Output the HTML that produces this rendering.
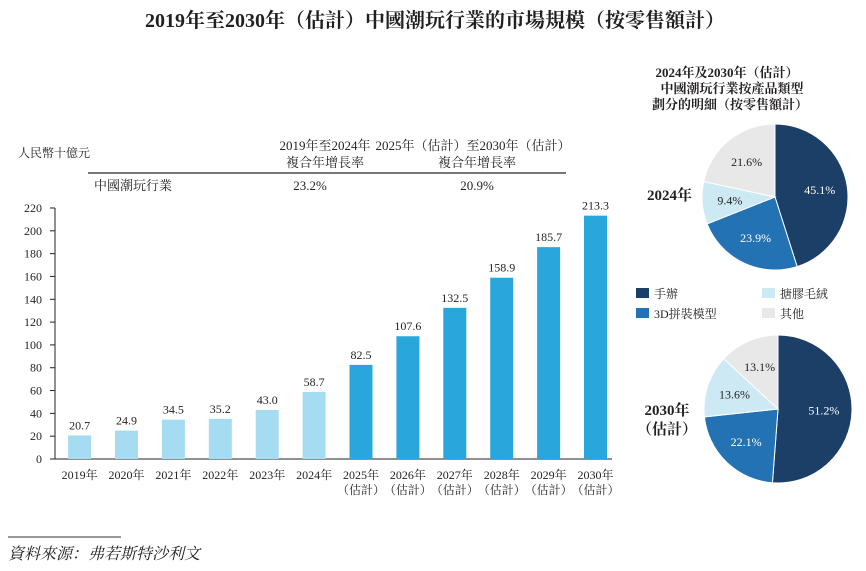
<!DOCTYPE html>
<html><head><meta charset="utf-8">
<style>
body{margin:0;width:866px;height:571px;background:#fff;overflow:hidden;font-family:"Liberation Serif","Noto Serif CJK SC",serif;color:#231f20}
svg{position:absolute;left:0;top:0}
text{font-family:"Liberation Serif","Noto Serif CJK SC",serif;fill:#231f20}
</style></head><body>
<svg id="c" width="866" height="571">
<text x="435" y="27" text-anchor="middle" font-size="20" font-weight="bold">2019年至2030年（估計）中國潮玩行業的市場規模（按零售額計）</text>
<text x="18" y="157" font-size="12">人民幣十億元</text>
<text x="325" y="150" font-size="13" text-anchor="middle">2019年至2024年</text>
<text x="325" y="167" font-size="13" text-anchor="middle">複合年增長率</text>
<text x="473" y="150" font-size="13" text-anchor="middle">2025年（估計）至2030年（估計）</text>
<text x="477" y="167" font-size="13" text-anchor="middle">複合年增長率</text>
<line x1="88" y1="173" x2="566" y2="173" stroke="#777" stroke-width="2"/>
<text x="94" y="190" font-size="13">中國潮玩行業</text>
<text x="310" y="190" font-size="13" text-anchor="middle">23.2%</text>
<text x="477" y="190" font-size="13" text-anchor="middle">20.9%</text>
<line x1="8" y1="537" x2="121" y2="537" stroke="#333" stroke-width="1"/>
<text x="8" y="559" font-size="16" font-style="italic">資料來源：弗若斯特沙利文</text>
<text x="727" y="77" font-size="13" font-weight="bold" text-anchor="middle">2024年及2030年（估計）</text>
<text x="732" y="93" font-size="13" font-weight="bold" text-anchor="middle">中國潮玩行業按產品類型</text>
<text x="730" y="109" font-size="13" font-weight="bold" text-anchor="middle">劃分的明細（按零售額計）</text>
<text x="647" y="200" font-size="15" font-weight="bold">2024年</text>
<text x="667" y="415" font-size="15" font-weight="bold" text-anchor="middle">2030年</text>
<text x="667" y="434" font-size="15" font-weight="bold" text-anchor="middle">（估計）</text>
</svg>
<script>
const years=["2019年","2020年","2021年","2022年","2023年","2024年","2025年","2026年","2027年","2028年","2029年","2030年"];
const values=[20.7,24.9,34.5,35.2,43.0,58.7,82.5,107.6,132.5,158.9,185.7,213.3];
const yTicks=[0,20,40,60,80,100,120,140,160,180,200,220];
const pieCategories=["手辦","3D拼裝模型","搪膠毛絨","其他"];
const pie2024=[45.1,23.9,9.4,21.6];
const pie2030=[51.2,22.1,13.6,13.1];
const NS="http://www.w3.org/2000/svg",svg=document.getElementById('c');
function mk(t,a,p){const e=document.createElementNS(NS,t);for(const k in a)e.setAttribute(k,a[k]);(p||svg).appendChild(e);return e;}
const y0=459,yTop=208,yMax=220;
const y=v=>y0-(v/yMax)*(y0-yTop);
const x=i=>79.6+i*46.9;
let e=mk('line',{x1:55,y1:yTop,x2:55,y2:y0,stroke:'#231f20'});


e=mk('line',{x1:55,y1:y0,x2:612,y2:y0,stroke:'#231f20'});


yTicks.forEach(t=>{
  let l=mk('line',{x1:50,y1:y(t),x2:55,y2:y(t),stroke:'#231f20'});
  
  
  let tx=mk('text',{x:42,y:y(t)+4,'font-size':12,'text-anchor':'end'});tx.textContent=t;
  
  
});
values.forEach((v,i)=>{
  let r=mk('rect',{x:x(i)-11.5,y:y(v),width:23,height:y0-y(v),fill:i<6?'#a6dcf1':'#29a7dd'});
  
  
  let t=mk('text',{x:x(i),y:y(v)-6,'font-size':12,'text-anchor':'middle'});t.textContent=v.toFixed(1);
  
  
  let l=mk('text',{x:x(i),y:479,'font-size':12,'text-anchor':'middle'});l.textContent=years[i];
  
  
  if(i>=6){let l2=mk('text',{x:x(i),y:494,'font-size':12,'text-anchor':'middle'});l2.textContent='（估計）';
  
  }
});
const cols=['#1b3f67','#2272b4','#cde9f4','#e8e8e9'];
const txtCol=['#fff','#fff','#231f20','#231f20'];
function pie(data,cx,cy,r,name){
  let a=0;
  data.forEach((v,i)=>{
    const a1=a+v/100*2*Math.PI;
    const p=(ang,rr)=>[cx+rr*Math.sin(ang),cy-rr*Math.cos(ang)];
    const [sx,sy]=p(a,r),[ex,ey]=p(a1,r);
    let s=mk('path',{d:`M${cx},${cy}L${sx},${sy}A${r},${r} 0 ${a1-a>Math.PI?1:0} 1 ${ex},${ey}Z`,fill:cols[i],stroke:'#fff','stroke-width':1});
    
    
    const m=(a+a1)/2,[lx,ly]=p(m,r*0.62);
    let t=mk('text',{x:lx,y:ly+4,'font-size':12,'text-anchor':'middle',style:'fill:'+txtCol[i]});t.textContent=v.toFixed(1)+'%';
    
    
    a=a1;
  });
}
pie(pie2024,775,197,73,'pie-2024');
pie(pie2030,778,409,74,'pie-2030');
const lg=[[636,288],[636,308],[762,288],[762,308]];
[0,1,2,3].forEach(i=>{
  let r=mk('rect',{x:lg[i][0],y:lg[i][1],width:13,height:10,fill:cols[i]});
  
  
  let t=mk('text',{x:lg[i][0]+18,y:lg[i][1]+10,'font-size':12});t.textContent=pieCategories[i];
  
  
});
</script>
</body></html>
